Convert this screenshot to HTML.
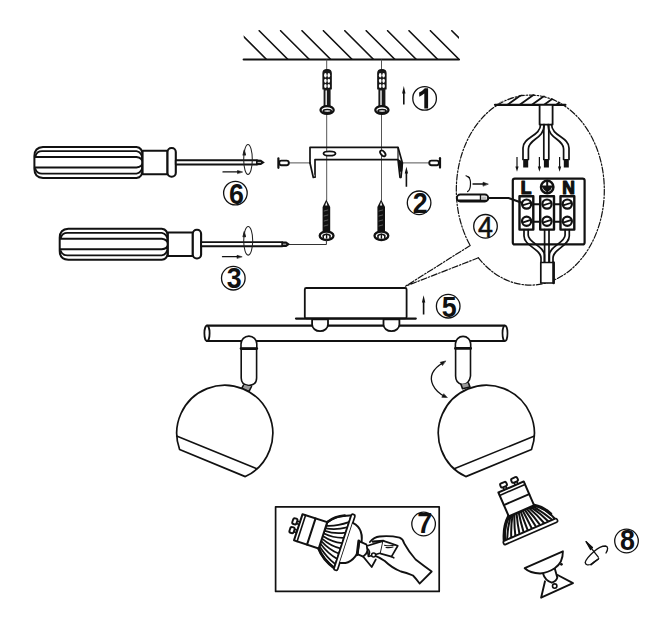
<!DOCTYPE html>
<html><head><meta charset="utf-8"><title>Installation diagram</title>
<style>
html,body{margin:0;padding:0;background:#fff;}
svg{display:block;}
text{font-family:"Liberation Sans",sans-serif;font-weight:bold;}
</style></head>
<body>
<svg width="672" height="630" viewBox="0 0 672 630" fill="none" stroke="#111" stroke-linecap="round" stroke-linejoin="round">
<defs>
  <clipPath id="ceilclip"><rect x="243.7" y="30" width="215.3" height="30"/></clipPath>
  <clipPath id="magclip"><ellipse cx="530" cy="189" rx="74" ry="95"/></clipPath>

  <g id="bulb">
    <path d="M-27.6,-3.6 Q-22.8,-17.5 -13.8,-24.6 L13.8,-24.6 Q23.5,-17.5 27.6,-3.6 Z" stroke-width="2.1" fill="#fff"/>
    <path d="M-24.5,-4 Q-19.8,-14 -12.2,-24 M-20.0,-4 Q-16.2,-14 -10.0,-24 M-15.5,-4 Q-12.6,-14 -7.8,-24 M-11.0,-4 Q-8.9,-14 -5.5,-24 M-6.5,-4 Q-5.3,-14 -3.2,-24 M-2.0,-4 Q-1.6,-14 -1.0,-24 M2.5,-4 Q2.0,-14 1.2,-24 M7.0,-4 Q5.7,-14 3.5,-24 M11.5,-4 Q9.3,-14 5.8,-24 M16.0,-4 Q13.0,-14 8.0,-24 M20.5,-4 Q16.6,-14 10.2,-24 M24.5,-4 Q19.8,-14 12.2,-24 " stroke-width="2.0"/>
    <path d="M-27.6,-3.6 Q-22.8,-17.5 -13.8,-24.6" stroke-width="3.4"/>
    <path d="M13.8,-24.6 Q22,-19 25.5,-10" stroke-width="3.2"/>
    <rect x="-29.3" y="-3.8" width="58.6" height="3.8" rx="1.5" stroke-width="1.7" fill="#fff"/>
    <rect x="-13.8" y="-50.5" width="27.6" height="26" stroke-width="2" fill="#fff"/>
    <line x1="-13.8" y1="-36.8" x2="13.8" y2="-36.8" stroke-width="2"/>
    <path d="M-13.8,-47.3 H13.8" stroke-width="1.6"/>
    <path d="M-7.4,-50.5 V-53.5 M-4.6,-50.5 V-53.5 M4.6,-50.5 V-53.5 M7.4,-50.5 V-53.5" stroke-width="1.6"/>
    <rect x="-9.3" y="-57.8" width="6.6" height="4.4" rx="1.6" stroke-width="1.9" fill="#fff"/>
    <rect x="2.7" y="-57.8" width="6.6" height="4.4" rx="1.6" stroke-width="1.9" fill="#fff"/>
  </g>
  <g id="bulb7">
    <path d="M-27.6,-3.6 Q-22.8,-17.5 -13.8,-24.6 L13.8,-24.6 Q23.5,-17.5 27.6,-3.6 Z" stroke-width="2.1" fill="#fff"/>
    <path d="M-23.5,-4 Q-20.1,-14 -11.8,-24 M-18.0,-4 Q-16.0,-14 -9.0,-24 M-12.5,-4 Q-11.9,-14 -6.2,-24 M-7.0,-4 Q-7.8,-14 -3.5,-24 M-1.5,-4 Q-3.6,-14 -0.8,-24 M4.0,-4 Q0.5,-14 2.0,-24 M9.5,-4 Q4.6,-14 4.8,-24 M15.0,-4 Q8.8,-14 7.5,-24 M20.5,-4 Q12.9,-14 10.2,-24 " stroke-width="1.7"/>
    <path d="M-27.6,-3.6 Q-22.8,-17.5 -13.8,-24.6" stroke-width="2.8"/>
    <path d="M13.8,-24.6 Q22,-19 25.5,-10" stroke-width="2.6"/>
    <rect x="-29.3" y="-3.8" width="58.6" height="3.8" rx="1.5" stroke-width="1.7" fill="#fff"/>
    <rect x="-13.8" y="-50.5" width="27.6" height="26" stroke-width="2" fill="#fff"/>
    <line x1="-13.8" y1="-36.8" x2="13.8" y2="-36.8" stroke-width="2"/>
    <path d="M-13.8,-47.3 H13.8" stroke-width="1.6"/>
    <path d="M-5.6,-50.5 V-53.5 M-3,-50.5 V-53.5 M3,-50.5 V-53.5 M5.6,-50.5 V-53.5" stroke-width="1.6"/>
    <rect x="-7.6" y="-57.8" width="6" height="4.4" rx="1.6" stroke-width="1.9" fill="#fff"/>
    <rect x="1.6" y="-57.8" width="6" height="4.4" rx="1.6" stroke-width="1.9" fill="#fff"/>
  </g>
</defs>
<rect x="0" y="0" width="672" height="630" fill="#fff" stroke="none"/>

<!-- ===== Ceiling ===== -->
<g id="ceiling">
  <g clip-path="url(#ceilclip)" stroke-width="1.6">
    <path d="M237.8,30.7 L266.6,59.5 M259.2,30.7 L288,59.5 M280.6,30.7 L309.4,59.5 M302,30.7 L330.8,59.5 M323.4,30.7 L352.2,59.5 M344.8,30.7 L373.6,59.5 M366.2,30.7 L395,59.5 M387.6,30.7 L416.4,59.5 M409,30.7 L437.8,59.5 M430.4,30.7 L459.2,59.5 M451.8,30.7 L480.6,59.5"/>
  </g>
  <line x1="243.7" y1="59.5" x2="459" y2="59.5" stroke-width="2.2"/>
</g>

<!-- guide lines -->
<g stroke="#555" stroke-width="1">
  <line x1="326.7" y1="60" x2="326.7" y2="200"/>
  <line x1="381.5" y1="60" x2="381.5" y2="200"/>
  <line x1="289" y1="162.9" x2="310.5" y2="162.9"/>
  <line x1="402.5" y1="162.9" x2="429.3" y2="162.9"/>
</g>


<!-- ===== Wall plugs with screws ===== -->
<g id="plug1">
  <path d="M323,89 V73 Q323,69.6 327.1,69.6 Q331.2,69.6 331.2,73 V89 Z" stroke-width="1.2" fill="#1a1a1a"/>
  <g fill="#fff" stroke="none">
    <ellipse cx="325.4" cy="75.2" rx="1.3" ry="2.3"/><ellipse cx="328.8" cy="75.2" rx="1.3" ry="2.3"/>
    <ellipse cx="325.4" cy="80.8" rx="1.3" ry="2.1"/><ellipse cx="328.8" cy="80.8" rx="1.3" ry="2.1"/>
    <ellipse cx="325.4" cy="86.1" rx="1.3" ry="2"/><ellipse cx="328.8" cy="86.1" rx="1.3" ry="2"/>
  </g>
  <path d="M323.6,89 H330.6 V106.5 H323.6 Z" fill="#1a1a1a" stroke="none"/>
  <path d="M326.2,91 V105" stroke="#ddd" stroke-width="1.6"/>
  <ellipse cx="327.1" cy="110" rx="6.6" ry="3.9" stroke-width="2.3" fill="#fff"/>
  <ellipse cx="327.3" cy="111" rx="4" ry="1.5" stroke-width="1.6"/>
</g>
<use href="#plug1" transform="translate(54.8,0)"/>

<!-- ===== Arrow 1 + circle 1 ===== -->
<g id="arr1" fill="#111" stroke="none">
  <path d="M403.8,86 L405.5,93.5 L404.6,93.5 L404.6,104.6 L403,104.6 L403,93.5 L402.1,93.5 Z"/>
</g>

<!-- ===== Bracket ===== -->
<g id="bracket" stroke-width="1.7">
  <path d="M310,163 V147.3 H398 L402.4,163 L401,177.5" />
  <path d="M315,177 V159.6 H398 L400,177.5" />
  <path d="M398,147.3 V159.6" stroke-width="1.2"/>
  <path d="M310,163 L313.3,177.5 L315,177" fill="#fff"/>
  <path d="M399.5,160.5 L402.2,163.5 L401.4,171 L400.2,171 Z" fill="#111"/>
  <ellipse cx="329.5" cy="153.5" rx="6" ry="2.2" stroke-width="1.8" fill="#fff"/>
  <ellipse cx="382.8" cy="153.4" rx="3.4" ry="2" transform="rotate(50 382.8 153.4)" stroke-width="1.8" fill="#fff"/>
</g>

<!-- side screws -->
<g id="sscrew" stroke-width="1.9" fill="#fff">
  <rect x="279.2" y="160.6" width="9.6" height="4.6" rx="2.2"/>
  <line x1="278.4" y1="158.4" x2="278.4" y2="167.8" stroke-width="2.2"/>
</g>
<g stroke-width="1.9" fill="#fff">
  <rect x="429.3" y="160.6" width="9.6" height="4.6" rx="2.2"/>
  <line x1="440" y1="158.2" x2="440" y2="167.6" stroke-width="2.2"/>
</g>
<g fill="#111" stroke="none">
  <path d="M406.4,166.7 L408.1,173.5 L407.2,173.5 L407.2,186.7 L405.6,186.7 L405.6,173.5 L404.7,173.5 Z"/>
</g>

<!-- lower screws -->
<g id="lscrew">
  <path d="M326.3,199.6 L330.2,207 V232.5 H322.6 V207 Z" fill="#111" stroke="none"/>
  <path d="M326.3,201.8 L327.4,205.5 H325.2 Z" fill="#fff" stroke="none"/>
  <path d="M324.2,211 l3.6,-1 M324.2,216 l3.6,-1 M324.2,221 l3.6,-1 M324.2,226 l3.6,-1" stroke="#777" stroke-width="0.7"/>
  <ellipse cx="326.6" cy="235.8" rx="6.9" ry="4.2" stroke-width="2.3" fill="#fff"/>
  <path d="M323.2,238 V235.5 Q326.6,233 330,235.5 V238" stroke-width="1.6"/>
  <path d="M326.6,234.3 V238" stroke-width="1.4"/>
</g>
<use href="#lscrew" transform="translate(54.8,0)"/>
<!-- line from screwdriver 2 tip to screw -->
<path d="M289.6,244.5 H326.4 V240" stroke-width="1" stroke="#333"/>


<!-- ===== Screwdrivers ===== -->
<g id="sd1">
  <path d="M43,146.9 H136.5 Q142.6,147.3 142.6,156 V169 Q142.6,177.6 136.5,177.9 H43 Q34.4,177.6 34.4,169 V156 Q34.4,147.3 43,146.9 Z" stroke-width="2" fill="#fff"/>
  <path d="M35.6,155.6 Q37,151.1 42,151.1 H136.5 Q142,152 142.4,159 M34.8,157 H136.5 Q142.4,158 142.6,162.3 Q142.4,167 136.5,167.5 H34.8 M35.6,169.5 Q37,173.6 42,173.6 H136.5 Q142,172.5 142.4,166" stroke-width="1.9"/>
  <rect x="142.6" y="150.7" width="24.9" height="23.6" stroke-width="2" fill="#fff"/>
  <rect x="167.5" y="148" width="8.3" height="28.7" rx="4" stroke-width="2.1" fill="#fff"/>
  <rect x="175.8" y="160.3" width="81.2" height="4.2" stroke-width="1.9" fill="#fff"/>
  <path d="M256.5,159.6 L261,159.8 L264.8,162.4 L261,165.1 L256.5,165.3 Z" fill="#111" stroke="none"/>
  <path d="M258,162.4 H260.5" stroke="#fff" stroke-width="0.8"/>
</g>
<use href="#sd1" transform="translate(25.3,81.8)"/>

<!-- rotation ellipses on shafts -->
<g stroke-width="1.05" stroke="#222">
  <ellipse cx="248" cy="159.4" rx="4.3" ry="15"/>
  <path d="M244.2,150 L245.5,155 L243,155 Z" fill="#111"/>
  <ellipse cx="248.2" cy="240.8" rx="4.5" ry="14.3"/>
  <path d="M244.2,231.6 L245.5,236.6 L243,236.6 Z" fill="#111"/>
</g>
<!-- push arrows -->
<g stroke-width="1.3">
  <line x1="223" y1="171.9" x2="239" y2="171.9"/>
  <path d="M242.3,171.9 L237.5,170.5 L237.5,173.3 Z" fill="#111" stroke-width="0.6"/>
  <line x1="222.5" y1="256.7" x2="238.5" y2="256.7"/>
  <path d="M241.8,256.7 L237,255.3 L237,258.1 Z" fill="#111" stroke-width="0.6"/>
</g>

<!-- ===== Magnifier ===== -->
<g id="mag">
  <path d="M478.4,257.8 A74,95 0 1 0 470.2,245.5" stroke-width="1.2" stroke-dasharray="6 1.8 1.5 1.8"/>
  <path d="M470.2,245.5 L405.5,286.2 M478.4,257.8 L405.5,286.2" stroke-width="1.2" stroke-dasharray="6 1.8 1.5 1.8"/>
  <g clip-path="url(#magclip)" stroke-width="1.8">
    <path d="M495.3,104.8 L509.3,94.8 M507.5,104.8 L521.5,94.8 M519.7,104.8 L533.7,94.8 M531.9,104.8 L545.9,94.8 M544.1,104.8 L558.1,94.8 M556.3,104.8 L570.3,94.8"/>
  </g>
  <line x1="495" y1="104.8" x2="565.4" y2="104.8" stroke-width="2.2"/>
  <!-- cable top -->
  <rect x="539.6" y="104.8" width="13" height="19.8" stroke-width="1.8" fill="#fff"/>
  <!-- wires -->
  <g stroke-width="1.7">
    <path d="M540.6,124.6 C540.6,136 523,137 523,148 V159.5"/>
    <path d="M544.2,124.6 C544.2,139 528.4,139 528.4,149 V159.5"/>
    <path d="M543.8,124.6 V159.5 M548.8,124.6 V159.5"/>
    <path d="M551.6,124.6 C551.6,136 569,137 569,148 V159.5"/>
    <path d="M548,124.6 C548,139 563.6,139 563.6,149 V159.5"/>
  </g>
  <g fill="#111" stroke="none">
    <rect x="523.2" y="159" width="5" height="8.5"/>
    <rect x="543.9" y="159" width="5" height="8.5"/>
    <rect x="563.8" y="159" width="5" height="8.5"/>
  </g>
  <!-- small down arrows -->
  <g fill="#111" stroke="none">
    <path d="M516.4,157 h1.2 v9.5 h1 l-1.6,5.2 l-1.6,-5.2 h1 z"/>
    <path d="M538.8,157 h1.2 v9.5 h1 l-1.6,5.2 l-1.6,-5.2 h1 z"/>
    <path d="M559,157 h1.2 v9.5 h1 l-1.6,5.2 l-1.6,-5.2 h1 z"/>
  </g>
  <!-- terminal box -->
  <rect x="512.8" y="178.6" width="71.8" height="65.8" rx="2" stroke-width="2.2" fill="#fff"/>
  <text x="526" y="193.8" font-size="17.5" text-anchor="middle" fill="#111" stroke="#111" stroke-width="1.2">L</text>
  <text x="568.5" y="193.8" font-size="17.5" text-anchor="middle" fill="#111" stroke="#111" stroke-width="1.2">N</text>
  <circle cx="547.2" cy="187" r="6.2" stroke-width="2.5" fill="#fff"/>
  <path d="M547.2,181.5 V192.5 M541.5,186.6 H553" stroke-width="2"/>
  <path d="M542.5,186.6 Q543.5,191.2 547.2,191.5 Q551,191.2 552,186.6 Z" fill="#111" stroke="none"/>
  <!-- blocks -->
  <g stroke-width="2.4" fill="#fff">
    <rect x="519.5" y="196.3" width="13.8" height="33.3"/>
    <rect x="540.2" y="196.3" width="13.8" height="33.3"/>
    <rect x="560.5" y="196.3" width="13.8" height="33.3"/>
  </g>
  <path d="M533.3,204.2 H540.2 M554,204.2 H560.5 M533.3,221.8 H540.2 M554,221.8 H560.5" stroke-width="2"/>
  <g stroke-width="2.2" fill="#fff">
    <circle cx="526.6" cy="204.1" r="4.6"/><circle cx="526.6" cy="221.3" r="4.6"/>
    <circle cx="547" cy="204.1" r="4.6"/><circle cx="547" cy="221.3" r="4.6"/>
    <circle cx="567.3" cy="204.1" r="4.6"/><circle cx="567.3" cy="221.3" r="4.6"/>
  </g>
  <path d="M523.2,205.2 L530,203 M523.2,222.4 L530,220.2 M543.6,205.2 L550.4,203 M543.6,222.4 L550.4,220.2 M563.9,205.2 L570.7,203 M563.9,222.4 L570.7,220.2" stroke-width="1.8"/>
  <!-- lower wires -->
  <g stroke-width="1.7">
    <path d="M524,229.6 V236 C524,246 541,249 541,258 V262.5"/>
    <path d="M528.2,229.6 V235 C528.2,243 544.4,246 544.4,255 V262.5"/>
    <path d="M544.6,229.6 V262.5 M549,229.6 V262.5"/>
    <path d="M569.3,229.6 V236 C569.3,246 553,249 553,258 V262.5"/>
    <path d="M565.1,229.6 V235 C565.1,243 549.4,246 549.4,255 V262.5"/>
  </g>
  <rect x="540.8" y="262.5" width="12.8" height="20.5" stroke-width="1.7" fill="#fff"/>
  <line x1="553.6" y1="262.5" x2="553.6" y2="283" stroke-width="2.6"/>
  <!-- small screwdriver -->
  <rect x="456.8" y="194.6" width="31.5" height="6.8" rx="3.4" stroke-width="2" fill="#fff"/>
  <path d="M459,200.6 H486" stroke-width="2.2"/>
  <path d="M480.5,195 V201" stroke-width="1.4"/>
  <path d="M481,196.5 H486.5 V199.5 H481 Z" fill="#bbb" stroke="none"/>
  <path d="M488.3,198 H508.5 L521.8,202.8" stroke-width="2"/>
  <!-- rotation hint -->
  <path d="M467.6,176.6 Q470.8,178.5 470.5,184 Q470.3,190 467.6,191.6" stroke-width="1.2"/>
  <path d="M466,175.8 L469.5,177.5" stroke-width="1.2"/>
  <line x1="473" y1="184" x2="484" y2="184" stroke-width="1.4"/>
  <path d="M488,184 L483,182.2 L483,185.8 Z" fill="#111" stroke-width="0.6"/>
</g>


<!-- ===== Canopy + bar ===== -->
<g id="fixture">
  <rect x="304.8" y="288" width="101.8" height="30.4" rx="1.5" stroke-width="1.8" fill="#fff"/>
  <line x1="296" y1="318.6" x2="415.8" y2="318.6" stroke-width="2.2"/>
  <!-- bar -->
  <path d="M207,325.6 H504.6 M207,341 H504.6" stroke-width="2.2"/>
  <ellipse cx="207" cy="333.3" rx="2.6" ry="7.7" stroke-width="1.8" fill="#fff"/>
  <ellipse cx="505" cy="333.3" rx="2.5" ry="7.7" stroke-width="1.7" fill="#fff"/>
  <!-- canopy screw domes -->
  <path d="M312.1,319.4 V324.5 A7.95,6.7 0 0 0 328,324.5 V319.4 Z" stroke-width="1.8" fill="#fff"/>
  <path d="M383.5,319.4 V324.5 A7.95,6.7 0 0 0 399.4,324.5 V319.4 Z" stroke-width="1.8" fill="#fff"/>
  <!-- up arrow 5 -->
  <path d="M423.6,295.2 L425.3,302.5 L424.4,302.5 L424.4,314.4 L422.8,314.4 L422.8,302.5 L421.9,302.5 Z" fill="#111" stroke="none"/>
  <!-- joints -->
  <g id="joint" stroke-width="1.6" fill="#fff">
    <path d="M241,348.5 V344 A7.9,7.9 0 0 1 256.8,344 V348.5 Z"/>
    <path d="M241.2,349 V378 Q241.2,385 248.8,385.5 Q256.6,385 256.6,378 V349"/>
    <line x1="241" y1="348.6" x2="256.8" y2="348.6" stroke-width="2.6"/>
    <path d="M243.5,385 L241.5,388.8 L249,391.5 L251.5,386.5" stroke-width="1.6" fill="#999"/>
  </g>
  <g stroke-width="1.6" fill="#fff">
    <path d="M455.4,348.5 V344 A7.65,7.65 0 0 1 470.7,344 V348.5 Z"/>
    <path d="M455.6,349 V376 Q455.6,383 462,384.5 Q469.5,384 470.5,376 V349"/>
    <line x1="455.4" y1="348.4" x2="470.7" y2="348.4" stroke-width="2.6"/>
    <path d="M461,384.5 L462.5,388.8 L470,387 L468.5,383" stroke-width="1.6" fill="#999"/>
  </g>
  <!-- spheres -->
  <path d="M179.6,449.5 A48,48 0 1 1 245.3,476.6 Z" stroke-width="1.7" fill="#fff"/>
  <line x1="176.6" y1="436" x2="256.9" y2="468.8" stroke-width="1.5"/>
  <path d="M531.5,449.5 A48,48 0 1 0 465.8,476.6 Z" stroke-width="1.7" fill="#fff"/>
  <line x1="534.5" y1="436" x2="454.2" y2="468.8" stroke-width="1.5"/>
  <!-- swivel arrow -->
  <path d="M443.5,362.5 Q427,372 432.9,385 Q436.5,392.5 445,396.5" stroke-width="1.3"/>
  <path d="M445.5,361 L440.2,362.3 L442.3,365.3 Z" fill="#111" stroke-width="0.6"/>
  <path d="M447,397.5 L441.8,397.3 L443.6,394 Z" fill="#111" stroke-width="0.6"/>
</g>


<!-- ===== GU10 bulb ===== -->
<use href="#bulb" transform="translate(531.2,533.3) rotate(-23.5)"/>


<!-- ===== Holder + rotation 8 ===== -->
<g id="holder" stroke-width="1.9" fill="#fff">
  <path d="M545,581.3 L541.1,597.7 L573,583.2 L557.6,575" fill="none"/>
  <path d="M543,573.5 Q545,580.5 551.8,582.7 Q556.5,581 557.3,577.5 L554.7,568.2"/>
  <path d="M524.7,568.2 L562.9,551.3 Q563,563 554.7,568.2 Q548,572.5 540.1,573.5 Q530,573 524.7,568.2 Z"/>
  <circle cx="554.7" cy="586.1" r="2.2" stroke-width="1.6"/>
  <circle cx="561.4" cy="564.3" r="1.4" fill="#111" stroke="none"/>
</g>
<g id="rot8" stroke-width="1.3">
  <path d="M606,553 Q609.5,547 605.5,546 Q600,546 594,551.5 Q586,558.5 585.2,562.5 Q586,566 590.5,564.5 L598.3,559.2"/>
  <path d="M591,565 L598.8,558.6 L593.5,562.3 Z" fill="#111" stroke-width="1.2"/>
  <line x1="586.1" y1="541.7" x2="598.3" y2="557.2" stroke-width="1.3"/>
  <path d="M586.1,541.7 L592.5,547.5 L590.5,549.5 Z" fill="#111" stroke-width="1.2"/>
</g>

<!-- ===== Box 7 ===== -->
<g id="box7">
  <rect x="275.6" y="506.8" width="163.6" height="84.6" stroke-width="1.7" fill="#fff"/>
  <use href="#bulb7" transform="translate(346.3,542.9) rotate(-72)"/>
  <!-- dome -->
  <g transform="translate(346.3,542.9) rotate(-72)">
    <path d="M-21,0 Q-19,13.5 1,14.8 Q19,13.5 21,0" stroke-width="2" fill="#fff"/>
  </g>
  <!-- hand -->
  <path d="M359.5,541.4 L366.2,544.3 Q371,550.5 363.2,556.6 L357.4,554.2 Z" stroke-width="1.8" fill="#fff"/>
  <path d="M358.8,540.8 L357.2,554.5" stroke-width="2.8"/>
  <path d="M369.9,542 Q374,537 379.6,536.5 Q390,535.5 399.6,537.6 Q403,539 404.1,543.2 Q409,552 415.6,559.5 Q424,566 431.7,571.5 L419.6,583.6 Q416,578.5 413,575.5 Q406,572.5 400.9,571.5 Q392,568 384.8,561 Q379,557 373.6,555.1" stroke-width="1.8" fill="#fff"/>
  <path d="M366.8,546 L383.3,540.9 L380.7,553 L368.5,556.5 Z" stroke-width="1.7" fill="#fff"/>
  <path d="M372.9,541.6 L383.3,540.9" stroke-width="2.2"/>
  <path d="M367.5,548.5 Q371,551.5 368.5,556" stroke-width="1.5"/>
  <path d="M383.3,540.9 Q390,543 397.8,545.8 L391.5,556.6 L380.7,553.6" stroke-width="1.7" fill="#fff"/>
  <path d="M384.5,545.2 Q390,546.5 395.5,544.8 M386,547.5 Q390,548 393,547" stroke-width="1.1"/>
  <path d="M391.5,556.6 L393.8,557.8" stroke-width="1.6"/>
  <circle cx="373.6" cy="555.1" r="2" stroke-width="1.5" fill="#fff"/>
  <path d="M363.2,556.6 L371.7,567 L375.8,559.5" stroke-width="1.7" fill="#fff"/>
</g>

<!-- ===== circled numbers ===== -->
<g id="nums">
  <circle cx="424.6" cy="98.4" r="11.8" stroke-width="1.3"/>
  <path d="M424.3,108.6 L428.1,108.6 L428.1,88.2 L424.8,88.2 Q422.5,91 419.1,92.5 L419.3,96.7 Q422,95.5 424.3,93.6 Z" fill="#111" stroke="none"/>
  <circle cx="419.1" cy="202.8" r="11.8" stroke-width="1.3"/>
  <text transform="translate(420.1 0) scale(0.91 1) translate(-420.1 0)" x="420.1" y="213.3" font-size="29.5" text-anchor="middle" fill="#111" stroke="none">2</text>
  <circle cx="233.3" cy="278.2" r="11.8" stroke-width="1.3"/>
  <text transform="translate(234.3 0) scale(0.91 1) translate(-234.3 0)" x="234.3" y="288.1" font-size="29.5" text-anchor="middle" fill="#111" stroke="none">3</text>
  <circle cx="485.5" cy="226.3" r="11.8" stroke-width="1.3"/>
  <text transform="translate(485.5 0) scale(0.91 1) translate(-485.5 0)" x="485.5" y="236.8" font-size="29.5" font-weight="normal" style="font-weight:normal" text-anchor="middle" fill="#111" stroke="#111" stroke-width="0.6">4</text>
  <circle cx="448.2" cy="306.2" r="11.8" stroke-width="1.3"/>
  <text transform="translate(449.2 0) scale(0.91 1) translate(-449.2 0)" x="449.2" y="316.7" font-size="29.5" text-anchor="middle" fill="#111" stroke="none">5</text>
  <circle cx="235.4" cy="193.1" r="11.8" stroke-width="1.3"/>
  <text transform="translate(236.4 0) scale(0.91 1) translate(-236.4 0)" x="236.4" y="203.6" font-size="29.5" text-anchor="middle" fill="#111" stroke="none">6</text>
  <circle cx="423.6" cy="524" r="11.8" stroke-width="1.3"/>
  <text transform="translate(424.6 0) scale(0.91 1) translate(-424.6 0)" x="424.6" y="533.5" font-size="29.5" text-anchor="middle" fill="#111" stroke="none">7</text>
  <circle cx="626.5" cy="541" r="11.8" stroke-width="1.3"/>
  <text transform="translate(627.5 0) scale(0.91 1) translate(-627.5 0)" x="627.5" y="550.3" font-size="29.5" text-anchor="middle" fill="#111" stroke="none">8</text>
</g>

</svg>
</body></html>
